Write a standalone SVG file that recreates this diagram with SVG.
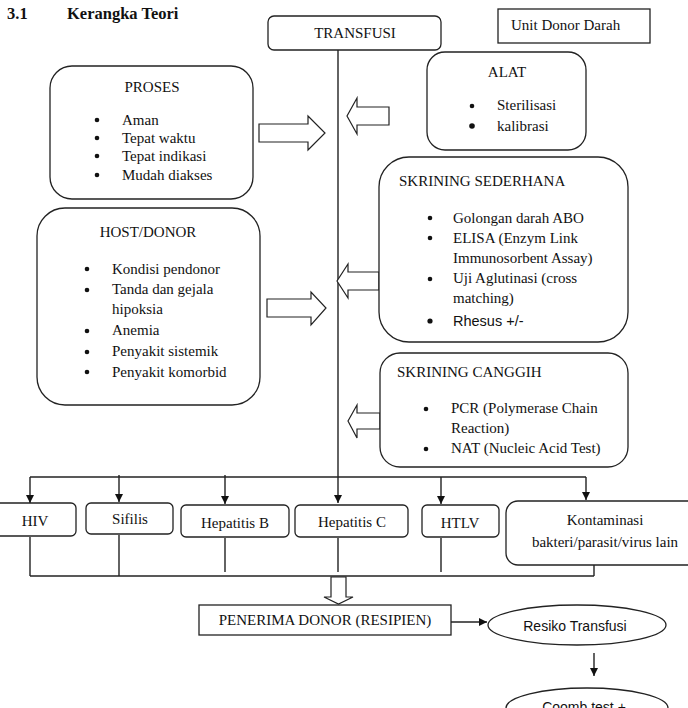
<svg xmlns="http://www.w3.org/2000/svg" width="688" height="708" viewBox="0 0 688 708">
<style>
.bx{fill:#fff;stroke:#222;stroke-width:1.3}
.ln{fill:none;stroke:#222;stroke-width:1.4}
.ha{fill:#fff;stroke:#222;stroke-width:1.2;stroke-linejoin:miter}
.t{font-family:"Liberation Serif","Times New Roman",serif;font-size:15px;fill:#111}
.tc{text-anchor:middle}
.s{font-family:"Liberation Sans",Arial,sans-serif;fill:#111}
.dot{fill:#111}
</style>
<defs>
<marker id="ah" viewBox="0 0 10 10" refX="10" refY="5" markerWidth="8" markerHeight="8" markerUnits="userSpaceOnUse" orient="auto">
<path d="M0,0 L10,5 L0,10 Z" fill="#111"/>
</marker>
</defs>
<rect width="688" height="708" fill="#fff"/>
<g id="title">
<text x="7" y="19" font-family="Liberation Serif, serif" font-size="16.5" font-weight="bold" fill="#111">3.1</text>
<text x="67" y="19" font-family="Liberation Serif, serif" font-size="16.5" font-weight="bold" fill="#111">Kerangka Teori</text>
</g>
<g id="connectors">
<line class="ln" x1="338" y1="50" x2="338" y2="503" marker-end="url(#ah)"/>
<line class="ln" x1="30" y1="477" x2="586" y2="477"/>
<line class="ln" x1="30" y1="477" x2="30" y2="503" marker-end="url(#ah)"/>
<line class="ln" x1="119" y1="475" x2="119" y2="502" marker-end="url(#ah)"/>
<line class="ln" x1="225" y1="475" x2="225" y2="504" marker-end="url(#ah)"/>
<line class="ln" x1="441" y1="477" x2="441" y2="504" marker-end="url(#ah)"/>
<line class="ln" x1="586" y1="477" x2="586" y2="500" marker-end="url(#ah)"/>
<line class="ln" x1="30" y1="537" x2="30" y2="576"/>
<line class="ln" x1="119" y1="535" x2="119" y2="576"/>
<line class="ln" x1="225" y1="538" x2="225" y2="572"/>
<line class="ln" x1="338" y1="538" x2="338" y2="572"/>
<line class="ln" x1="441" y1="538" x2="441" y2="572"/>
<line class="ln" x1="594" y1="565" x2="594" y2="576"/>
<line class="ln" x1="30" y1="576" x2="594" y2="576"/>
<line class="ln" x1="451" y1="622" x2="487" y2="622" marker-end="url(#ah)"/>
<line class="ln" x1="594" y1="653" x2="594" y2="676" marker-end="url(#ah)"/>
<polygon class="ha" points="259,124 308,124 308,116 325,133 308,150 308,142 259,142"/>
<polygon class="ha" points="389,107 357,107 357,98 347,116 357,134 357,125 389,125"/>
<polygon class="ha" points="379,272 348,272 348,264 337,281 348,298 348,290 379,290"/>
<polygon class="ha" points="267,299 311,299 311,292 326,308 311,325 311,317 267,317"/>
<polygon class="ha" points="380,413 357,413 357,405 348,421 357,438 357,429 380,429"/>
<polygon class="ha" points="331,577 346,577 346,597 353,597 338.5,604 324,597 331,597"/>
</g>
<g id="transfusi">
<rect class="bx" x="268" y="16" width="173" height="34" rx="6"/>
<text class="t tc" x="355" y="38" font-size="16">TRANSFUSI</text>
</g>
<g id="unit-donor">
<rect class="bx" x="498" y="9" width="152" height="34"/>
<text class="t" x="511" y="30" font-size="16">Unit Donor Darah</text>
</g>
<g id="proses">
<rect class="bx" x="50" y="66" width="203" height="133" rx="22"/>
<text class="t tc" x="152" y="92">PROSES</text>
<circle class="dot" cx="97" cy="120" r="2.3"/><text class="t" x="122" y="125">Aman</text>
<circle class="dot" cx="97" cy="138" r="2.3"/><text class="t" x="122" y="143">Tepat waktu</text>
<circle class="dot" cx="97" cy="156" r="2.3"/><text class="t" x="122" y="161">Tepat indikasi</text>
<circle class="dot" cx="97" cy="175" r="2.3"/><text class="t" x="122" y="180">Mudah diakses</text>
</g>
<g id="alat">
<rect class="bx" x="427" y="52" width="159" height="98" rx="18"/>
<text class="t tc" x="507" y="77">ALAT</text>
<circle class="dot" cx="472" cy="106" r="2.3"/><text class="t" x="497" y="110">Sterilisasi</text>
<circle class="dot" cx="472" cy="126" r="2.8"/><text class="t" x="497" y="131">kalibrasi</text>
</g>
<g id="skrining-sederhana">
<rect class="bx" x="379" y="157" width="249" height="185" rx="30"/>
<text class="t" x="399" y="186">SKRINING SEDERHANA</text>
<circle class="dot" cx="430" cy="218" r="2.3"/><text class="t" x="453" y="223">Golongan darah ABO</text>
<circle class="dot" cx="430" cy="238" r="2.3"/><text class="t" x="453" y="243">ELISA (Enzym Link</text>
<text class="t" x="453" y="263">Immunosorbent Assay)</text>
<circle class="dot" cx="430" cy="279" r="2.3"/><text class="t" x="453" y="283">Uji Aglutinasi (cross</text>
<text class="t" x="453" y="303">matching)</text>
<circle class="dot" cx="430" cy="321" r="2.6"/><text class="s" x="453" y="326" font-size="14.5">Rhesus +/-</text>
</g>
<g id="host-donor">
<rect class="bx" x="37" y="208" width="223" height="197" rx="28"/>
<text class="t tc" x="148" y="237">HOST/DONOR</text>
<circle class="dot" cx="87" cy="269" r="2.3"/><text class="t" x="112" y="274">Kondisi pendonor</text>
<circle class="dot" cx="87" cy="290" r="2.3"/><text class="t" x="112" y="294">Tanda dan gejala</text>
<text class="t" x="112" y="314">hipoksia</text>
<circle class="dot" cx="87" cy="331" r="2.3"/><text class="t" x="112" y="335">Anemia</text>
<circle class="dot" cx="87" cy="352" r="2.3"/><text class="t" x="112" y="356">Penyakit sistemik</text>
<circle class="dot" cx="87" cy="372" r="2.3"/><text class="t" x="112" y="377">Penyakit komorbid</text>
</g>
<g id="skrining-canggih">
<rect class="bx" x="380" y="353" width="248" height="114" rx="20"/>
<text class="t" x="397" y="377">SKRINING CANGGIH</text>
<circle class="dot" cx="426" cy="409" r="2.3"/><text class="t" x="451" y="413">PCR (Polymerase Chain</text>
<text class="t" x="451" y="433">Reaction)</text>
<circle class="dot" cx="426" cy="449" r="2.3"/><text class="t" x="451" y="453">NAT (Nucleic Acid Test)</text>
</g>
<g id="hiv">
<rect class="bx" x="-10" y="503" width="86" height="33" rx="5"/>
<text class="t tc" x="35" y="526" font-size="16">HIV</text>
</g>
<g id="sifilis">
<rect class="bx" x="86" y="503" width="87" height="31" rx="5"/>
<text class="t tc" x="130" y="524" font-size="16">Sifilis</text>
</g>
<g id="hepatitis-b">
<rect class="bx" x="181" y="505" width="108" height="32" rx="5"/>
<text class="t tc" x="235" y="528" font-size="16">Hepatitis B</text>
</g>
<g id="hepatitis-c">
<rect class="bx" x="295" y="505" width="113" height="32" rx="5"/>
<text class="t tc" x="352" y="527" font-size="16">Hepatitis C</text>
</g>
<g id="htlv">
<rect class="bx" x="422" y="505" width="77" height="32" rx="5"/>
<text class="t tc" x="460" y="528" font-size="16">HTLV</text>
</g>
<g id="kontaminasi">
<rect class="bx" x="506" y="501" width="200" height="64" rx="12"/>
<text class="t tc" x="605" y="525" font-size="16">Kontaminasi</text>
<text class="t tc" x="605" y="547" font-size="16">bakteri/parasit/virus lain</text>
</g>
<g id="penerima">
<rect class="bx" x="199" y="605" width="252" height="30"/>
<text class="t tc" x="325" y="625" font-size="14.5">PENERIMA DONOR (RESIPIEN)</text>
</g>
<g id="resiko">
<ellipse class="bx" cx="577" cy="625" rx="89" ry="20"/>
<text class="s tc" x="575" y="631" font-size="14">Resiko Transfusi</text>
</g>
<g id="coomb">
<ellipse class="bx" cx="587" cy="708" rx="81" ry="20"/>
<text class="s tc" x="584" y="712" font-size="14">Coomb test +</text>
</g>
</svg>
